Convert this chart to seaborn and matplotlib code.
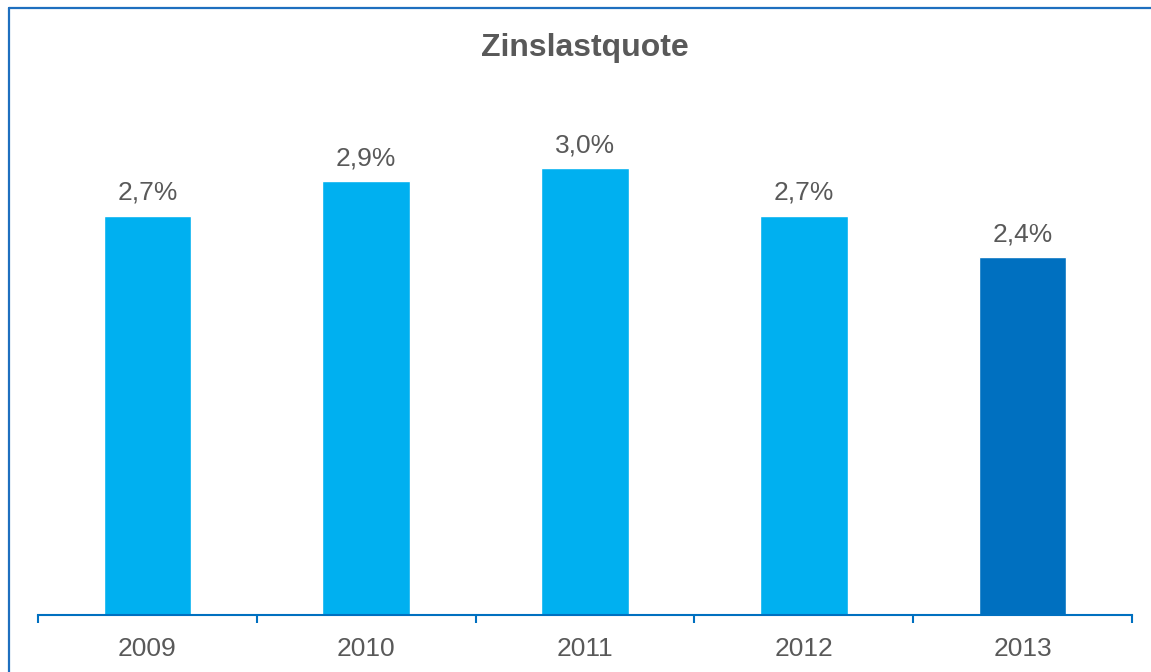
import matplotlib
matplotlib.use("Agg")
import matplotlib.pyplot as plt
import seaborn as sns
from matplotlib.lines import Line2D

# DATA
years = ["2009", "2010", "2011", "2012", "2013"]
quote = [2.68, 2.91, 3.00, 2.68, 2.40]
bar_colors = ["#00B0F0", "#00B0F0", "#00B0F0", "#00B0F0", "#0070C0"]

TEXT = "#595959"
BLUE = "#0070C0"

sns.set_style("white")
plt.rcParams["font.family"] = ["Liberation Sans", "DejaVu Sans"]

fig = plt.figure(figsize=(11.51, 6.72), dpi=100)
ax = fig.add_axes([38 / 1151, 57 / 672, (1132 - 38) / 1151, 503 / 672])

sns.barplot(x=years, y=quote, hue=years, palette=bar_colors, width=0.4,
            legend=False, ax=ax, saturation=1)

ax.set_xlim(-0.5, 4.5)
ax.set_ylim(0, 3.376)

# VALUE LABELS IN GERMAN NUMBER FORMAT
for i, v in enumerate(quote):
    ax.annotate(f"{v:.1f}".replace(".", ",") + "%", (i, v),
                xytext=(0, 11.5), textcoords="offset points",
                ha="center", va="baseline", fontsize=19, color=TEXT)

# AXIS STYLING: ONLY THE BASELINE, TICKS AT CATEGORY BOUNDARIES
for s in ["left", "right", "top"]:
    ax.spines[s].set_visible(False)
ax.spines["bottom"].set_color(BLUE)
ax.spines["bottom"].set_linewidth(1.5)
ax.set_yticks([])
ax.set_xticks(range(len(years)))
ax.set_xticklabels(years)
ax.set_xticks([i - 0.5 for i in range(len(years) + 1)], minor=True)
ax.tick_params(axis="x", which="major", bottom=True, length=0, pad=16,
               labelsize=19, labelcolor=TEXT)
ax.tick_params(axis="x", which="minor", bottom=True, length=5.5, width=1.5,
               color=BLUE, direction="out")
ax.set_xlabel("")
ax.set_ylabel("")

fig.text(585 / 1151, 1 - 48 / 672, "Zinslastquote", ha="center", va="center",
         fontsize=23, fontweight="bold", color=TEXT)

# BLUE FRAME ALONG THE LEFT AND TOP EDGE
fig.add_artist(Line2D([9 / 1151, 9 / 1151], [0, 1 - 8 / 672], color="#1E6FBF", lw=1.6))
fig.add_artist(Line2D([9 / 1151, 1], [1 - 8 / 672, 1 - 8 / 672], color="#1E6FBF", lw=1.6))

fig.savefig("out.png", dpi=100)
